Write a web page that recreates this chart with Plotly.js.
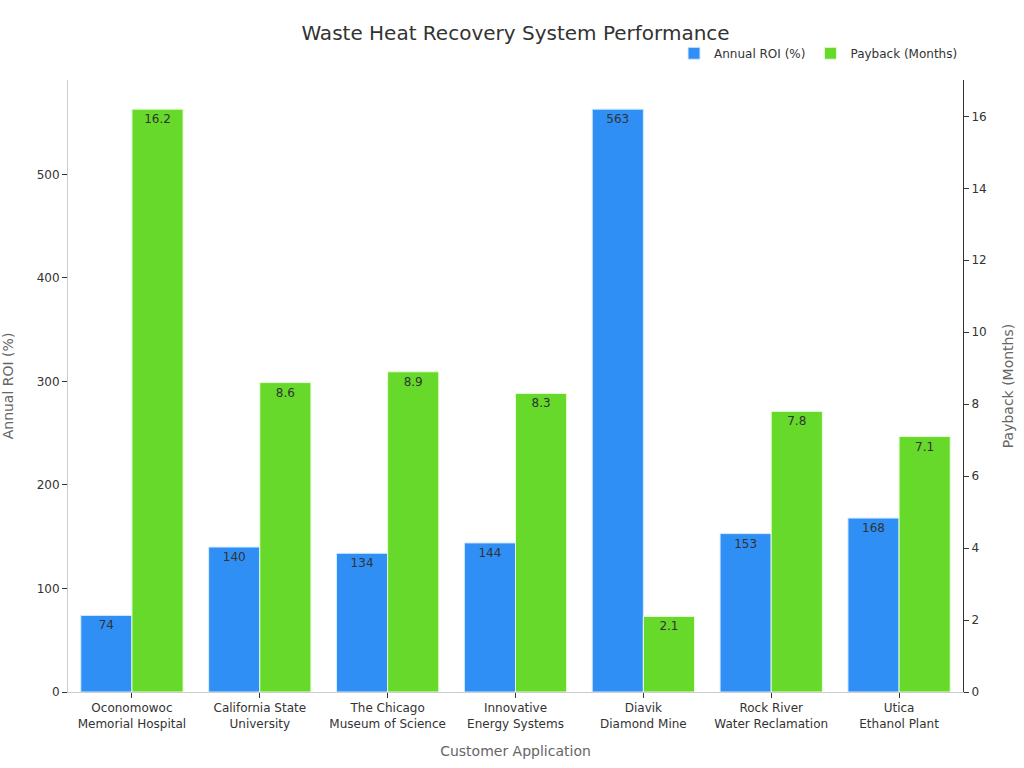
<!DOCTYPE html>
<html>
<head>
<meta charset="utf-8">
<script src="https://cdn.plot.ly/plotly-3.0.1.min.js"></script>
<style>html,body{margin:0;padding:0;background:#fff;}#chart{width:1024px;height:768px;}</style>
</head>
<body>
<div id="chart"></div>
<script>
const categories = ["Oconomowoc<br>Memorial Hospital", "California State<br>University", "The Chicago<br>Museum of Science", "Innovative<br>Energy Systems", "Diavik<br>Diamond Mine", "Rock River<br>Water Reclamation", "Utica<br>Ethanol Plant"];
const roiValues = [74, 140, 134, 144, 563, 153, 168];
const paybackValues = [16.2, 8.6, 8.9, 8.3, 2.1, 7.8, 7.1];

const font = "DejaVu Sans, sans-serif";
const traces = [
  {
    type: "bar", name: "Annual ROI (%)", x: categories, y: roiValues,
    yaxis: "y", offsetgroup: "a",
    marker: {color: "#2f8ff5", line: {color: "#d6ecff", width: 1}},
    text: roiValues.map(String), textposition: "inside", insidetextanchor: "end",
    textfont: {color: "#333", size: 12, family: font}, hoverinfo: "y"
  },
  {
    type: "bar", name: "Payback (Months)", x: categories, y: paybackValues,
    yaxis: "y2", offsetgroup: "b",
    marker: {color: "#66d92a", line: {color: "#e6ffd6", width: 1}},
    text: paybackValues.map(v => v.toFixed(1)), textposition: "inside", insidetextanchor: "end",
    textfont: {color: "#333", size: 12, family: font}, hoverinfo: "y"
  }
];
const layout = {
  width: 1024, height: 768,
  margin: {l: 68, r: 61, t: 80, b: 76},
  paper_bgcolor: "#fff", plot_bgcolor: "#fff",
  font: {family: font, color: "#333", size: 12},
  title: {text: "Waste Heat Recovery System Performance", x: 0.5, xref: "paper", y: 0.957, yanchor: "middle", font: {size: 20, color: "#333", family: font}},
  barmode: "group", bargap: 0.2, bargroupgap: 0,
  showlegend: true,
  legend: {orientation: "h", x: 1, xanchor: "right", y: 1.02, yanchor: "bottom", font: {size: 12, color: "#333"}},
  xaxis: {
    title: {text: "Customer Application", font: {size: 14, color: "#666"}, standoff: 16},
    showline: true, linecolor: "#ccc", linewidth: 1, ticks: "outside", ticklen: 5, tickcolor: "#333",
    showgrid: false, tickfont: {size: 12, color: "#333"}
  },
  yaxis: {
    title: {text: "Annual ROI (%)", font: {size: 14, color: "#666"}, standoff: 22},
    range: [0, 591.15], showline: true, linecolor: "#ccc", ticks: "outside", ticklen: 5, tickcolor: "#333",
    showgrid: false, zeroline: false, dtick: 100, tickfont: {size: 12, color: "#333"}
  },
  yaxis2: {
    title: {text: "Payback (Months)", font: {size: 14, color: "#666"}, standoff: 17},
    overlaying: "y", side: "right", range: [0, 17.01], showline: true, linecolor: "#333",
    ticks: "outside", ticklen: 5, tickcolor: "#333", showgrid: false, zeroline: false, dtick: 2,
    tickfont: {size: 12, color: "#333"}
  }
};
Plotly.newPlot("chart", traces, layout, {displayModeBar: false, staticPlot: true});
</script>
</body>
</html>
